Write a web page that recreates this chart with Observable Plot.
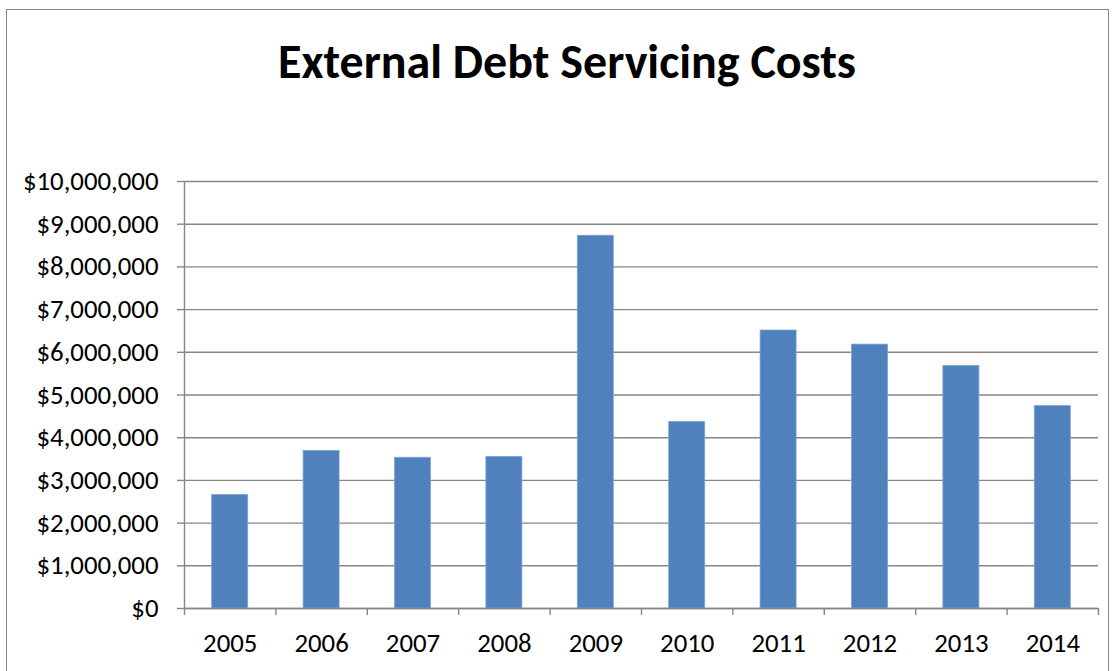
<!DOCTYPE html>
<html>
<head>
<meta charset="utf-8">
<script src="https://cdn.jsdelivr.net/npm/d3@7"></script>
<script src="https://cdn.jsdelivr.net/npm/@observablehq/plot@0.6"></script>
<style>
  html, body { margin: 0; padding: 0; background: #fff; }
  #wrap { position: relative; width: 1118px; height: 671px; overflow: hidden; font-family: Calibri, Carlito, Lato, sans-serif; }
  #border { position: absolute; left: 6px; top: 9px; width: 1103px; height: 700px; border: 1.5px solid #868686; box-sizing: border-box; }
  #title { position: absolute; left: 0; top: 0; width: 1118px; height: 110px; margin: 0; }
  #title div { position: absolute; left: 0; width: 1134px; top: 34px; text-align: center; font-weight: 700; font-size: 48px; line-height: 56px; color: #000; }
  #chart { position: absolute; left: 0; top: 110px; }
  #chart svg { font-family: Calibri, Carlito, Lato, sans-serif; }
  #chart svg text { font-size: 26.8px; fill: #000; }
</style>
</head>
<body>
<div id="wrap">
  <div id="border"></div>
  <div id="title"><div>External Debt Servicing Costs</div></div>
  <div id="chart"></div>
</div>
<script>
const years = [2005, 2006, 2007, 2008, 2009, 2010, 2011, 2012, 2013, 2014];
const costs = [2660000, 3690000, 3530000, 3550000, 8730000, 4370000, 6510000, 6180000, 5680000, 4740000];
const yTicks = [0, 1000000, 2000000, 3000000, 4000000, 5000000, 6000000, 7000000, 8000000, 9000000, 10000000];

const data = years.map((y, i) => ({year: y, cost: costs[i]}));
const half = 0.197;
const boundaries = years.map(y => y - 0.5).concat([years[years.length - 1] + 0.5]);
const xDomain = [boundaries[0], boundaries[boundaries.length - 1]];
const yDomain = [yTicks[0], yTicks[yTicks.length - 1]];
const fmt = v => "$" + d3.format(",")(v);
const grey = "#868686";

const chart = Plot.plot({
  width: 1118,
  height: 561,
  marginLeft: 184,
  marginRight: 20,
  marginTop: 71,
  marginBottom: 63,
  style: {fontSize: "26.8px", color: "#000", background: "transparent"},
  x: {type: "linear", domain: xDomain, label: null},
  y: {domain: yDomain, label: null},
  marks: [
    Plot.gridY(yTicks, {stroke: grey, strokeOpacity: 1, strokeWidth: 1.4}),
    Plot.rectY(data, {x1: d => d.year - half, x2: d => d.year + half, y: "cost", fill: "#4F81BD", stroke: "#7FA3D1", strokeWidth: 0.8}),
    Plot.axisY(yTicks, {label: null, tickSize: 7, tickPadding: 19, tickFormat: fmt, stroke: grey, strokeWidth: 1.4, fontSize: 26.8, fill: "#000"}),
    Plot.ruleX([xDomain[0]], {y1: yDomain[0], y2: yDomain[1], stroke: grey, strokeWidth: 1.4}),
    Plot.ruleY([yDomain[0]], {stroke: grey, strokeWidth: 1.4}),
    Plot.axisX(boundaries, {label: null, tickSize: 7, tickFormat: () => "", stroke: grey, strokeWidth: 1.4}),
    Plot.axisX(years, {label: null, tickSize: 0, tickPadding: 24, tickFormat: d => String(d), fontSize: 26.8, fill: "#000"})
  ]
});
document.getElementById("chart").appendChild(chart);
</script>
</body>
</html>
